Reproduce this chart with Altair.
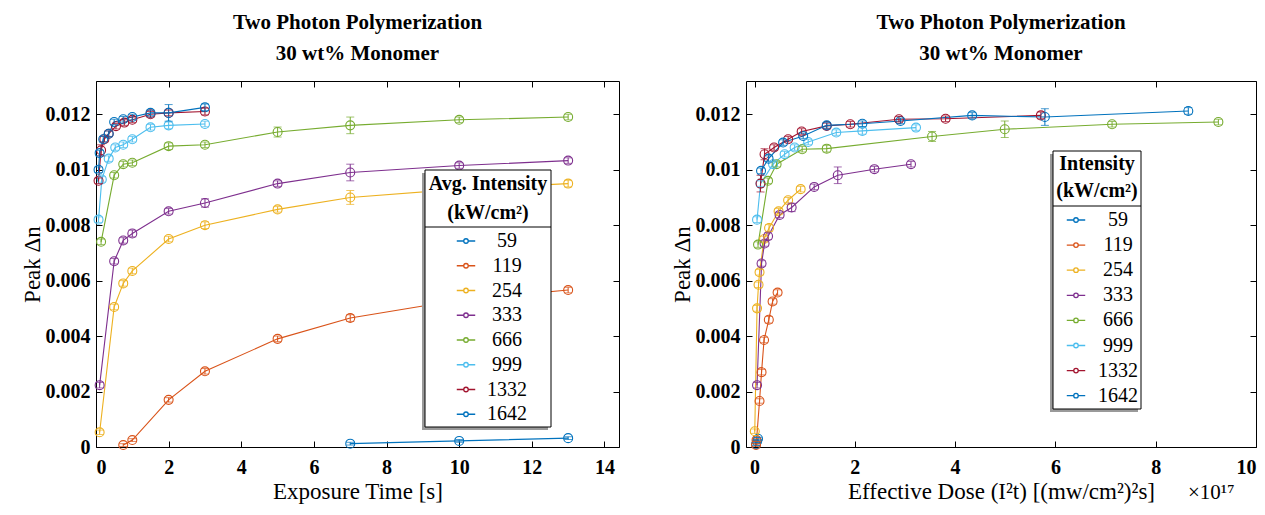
import altair as alt
import pandas as pd

FONT = "Liberation Serif"

intensities = ["59", "119", "254", "333", "666", "999", "1332", "1642"]
colors = ["#0072BD", "#D95319", "#EDB120", "#7E2F8E", "#77AC30", "#4DBEEE", "#A2142F", "#0072BD"]

# ---------------- Left panel: Peak Δn vs exposure time [s]  (value, error bar half-height)
t_59 = [7, 10, 13]
dn_59 = [0.00012, 0.00022, 0.00032]
e_59 = [0.00005, 0.00005, 0.00005]
t_119 = [0.75, 1, 2, 3, 5, 7, 10, 13]
dn_119 = [0.00007, 0.00025, 0.0017, 0.00273, 0.0039, 0.00465, 0.0053, 0.00566]
e_119 = [0.00005, 0.00005, 0.00008, 0.0001, 0.0001, 0.00012, 0.0001, 0.0001]
t_254 = [0.1, 0.5, 0.75, 1, 2, 3, 5, 7, 10, 13]
dn_254 = [0.00053, 0.00505, 0.0059, 0.00635, 0.0075, 0.008, 0.00857, 0.009, 0.0093, 0.0095]
e_254 = [0.00008, 0.0001, 0.0001, 0.0001, 0.0001, 0.00012, 0.0001, 0.00025, 0.0001, 0.00012]
t_333 = [0.1, 0.5, 0.75, 1, 2, 3, 5, 7, 10, 13]
dn_333 = [0.00223, 0.0067, 0.00745, 0.0077, 0.0085, 0.0088, 0.0095, 0.0099, 0.01015, 0.01033]
e_333 = [0.0001, 0.0001, 0.0001, 0.00012, 0.0001, 0.00015, 0.0001, 0.0003, 0.0001, 0.0001]
t_666 = [0.14, 0.5, 0.75, 1, 2, 3, 5, 7, 10, 13]
dn_666 = [0.0074, 0.0098, 0.0102, 0.01025, 0.01085, 0.0109, 0.01136, 0.0116, 0.0118, 0.0119]
e_666 = [0.0001, 0.0001, 0.0001, 0.0001, 0.00012, 0.0001, 0.00018, 0.0003, 0.0001, 0.0001]
t_999 = [0.07, 0.16, 0.35, 0.53, 0.75, 1, 1.5, 2, 3]
dn_999 = [0.0082, 0.00965, 0.0104, 0.0108, 0.0109, 0.0111, 0.01153, 0.0116, 0.01165]
e_999 = [0.0001, 0.0001, 0.0001, 0.0001, 0.0001, 0.0001, 0.0001, 0.00012, 0.0001]
t_1332 = [0.07, 0.14, 0.23, 0.35, 0.55, 0.78, 1, 1.5, 2, 3]
dn_1332 = [0.0096, 0.0107, 0.0111, 0.0113, 0.01157, 0.0117, 0.0118, 0.0120, 0.01205, 0.0121]
e_1332 = [0.0001, 0.0002, 0.0001, 0.0001, 0.0001, 0.0001, 0.0001, 0.0001, 0.0001, 0.00012]
t_1642 = [0.07, 0.1, 0.2, 0.35, 0.5, 0.75, 1, 1.5, 2, 3]
dn_1642 = [0.0100, 0.0106, 0.0111, 0.0113, 0.01172, 0.01182, 0.0119, 0.01205, 0.01205, 0.01225]
e_1642 = [0.0001, 0.0001, 0.0001, 0.0001, 0.0001, 0.0001, 0.0001, 0.0001, 0.0003, 0.00012]

# ---------------- Right panel: Peak Δn vs effective dose (x 1e17)
d_59 = [0.03, 0.05, 0.07]
dr_59 = [0.0001, 0.0002, 0.0003]
er_59 = [0.00005, 0.00005, 0.00005]
d_119 = [0.03, 0.04, 0.1, 0.14, 0.19, 0.285, 0.36, 0.46]
dr_119 = [0.00007, 0.00025, 0.00166, 0.0027, 0.00386, 0.00459, 0.00525, 0.00557]
er_119 = [0.00005, 0.00005, 0.00008, 0.0001, 0.0001, 0.00012, 0.0001, 0.0001]
d_254 = [0.005, 0.05, 0.08, 0.1, 0.19, 0.29, 0.48, 0.67, 0.92]
dr_254 = [0.00057, 0.005, 0.00585, 0.0063, 0.0075, 0.0079, 0.0085, 0.0089, 0.0093]
er_254 = [0.00008, 0.0001, 0.0001, 0.0001, 0.0001, 0.00012, 0.0001, 0.0001, 0.0001]
d_333 = [0.05, 0.14, 0.2, 0.27, 0.5, 0.74, 1.19, 1.66, 2.39, 3.12]
dr_333 = [0.00223, 0.00662, 0.00734, 0.0076, 0.00837, 0.00864, 0.00938, 0.0098, 0.01002, 0.0102]
er_333 = [0.0001, 0.0001, 0.0001, 0.00012, 0.0001, 0.00015, 0.0001, 0.0003, 0.0001, 0.0001]
d_666 = [0.07, 0.27, 0.44, 0.95, 1.44, 3.54, 4.99, 7.13, 9.25]
dr_666 = [0.0073, 0.0096, 0.0102, 0.01074, 0.01076, 0.0112, 0.01146, 0.01164, 0.01172]
er_666 = [0.0001, 0.0001, 0.0001, 0.0001, 0.00012, 0.00018, 0.0003, 0.0001, 0.0001]
d_999 = [0.05, 0.12, 0.37, 0.6, 0.8, 1.07, 1.63, 2.15, 3.22]
dr_999 = [0.0082, 0.0095, 0.0102, 0.01056, 0.0108, 0.0110, 0.01134, 0.0114, 0.01152]
er_999 = [0.0001, 0.0001, 0.0001, 0.0001, 0.0001, 0.0001, 0.0001, 0.00012, 0.0001]
d_1332 = [0.12, 0.2, 0.39, 0.67, 0.94, 1.44, 1.91, 2.88, 3.81, 5.71]
dr_1332 = [0.0095, 0.01056, 0.0108, 0.0111, 0.01138, 0.01158, 0.01164, 0.01182, 0.01184, 0.01196]
er_1332 = [0.0003, 0.0002, 0.0001, 0.0001, 0.0001, 0.0001, 0.0001, 0.0001, 0.0001, 0.00012]
d_1642 = [0.13, 0.28, 0.57, 0.97, 1.44, 2.15, 2.91, 4.34, 5.79, 8.65]
dr_1642 = [0.00996, 0.0104, 0.01098, 0.01122, 0.0116, 0.01166, 0.01176, 0.01196, 0.0119, 0.01212]
er_1642 = [0.0001, 0.0001, 0.0001, 0.0001, 0.0001, 0.0001, 0.0001, 0.0001, 0.0003, 0.00012]

left_series = [(t_59, dn_59, e_59), (t_119, dn_119, e_119), (t_254, dn_254, e_254),
               (t_333, dn_333, e_333), (t_666, dn_666, e_666), (t_999, dn_999, e_999),
               (t_1332, dn_1332, e_1332), (t_1642, dn_1642, e_1642)]
right_series = [(d_59, dr_59, er_59), (d_119, dr_119, er_119), (d_254, dr_254, er_254),
                (d_333, dr_333, er_333), (d_666, dr_666, er_666), (d_999, dr_999, er_999),
                (d_1332, dr_1332, er_1332), (d_1642, dr_1642, er_1642)]


def make_df(series):
    rows = []
    for k, (xs, ys, es) in enumerate(series):
        for x, y, e in zip(xs, ys, es):
            rows.append({"I": intensities[k], "order": k, "x": x, "dn": y,
                         "lo": y - e, "hi": y + e})
    return pd.DataFrame(rows)


dfL = make_df(left_series)
dfR = make_df(right_series)

y_ticks = [0, 0.002, 0.004, 0.006, 0.008, 0.01, 0.012]
PLOT_H = 366
SYMBOL = "M-4.1,0H-1M1,0H4.1M1,0A1,1,0,1,1,-1,0A1,1,0,1,1,1,0Z"


def panel(df, width, xdom, xticks, xtitle, legend_x, legend_y, row_pad, label_off,
          box, sep_y, ltitle, ltitle_pos, extra_text=None):
    color = alt.Color(
        "I:N",
        scale=alt.Scale(domain=intensities, range=colors),
        sort=intensities,
        legend=alt.Legend(
            title=None, orient="none", legendX=legend_x, legendY=legend_y,
            symbolType=SYMBOL, symbolSize=20.25, symbolStrokeWidth=1.3,
            symbolFillColor="white", padding=0, rowPadding=row_pad,
            labelFont=FONT, labelFontSize=20, labelColor="black", labelAlign="center",
            labelOffset=label_off, symbolOffset=0,
        ),
    )
    xs = alt.Scale(domain=xdom, nice=False, zero=False)
    ys = alt.Scale(domain=[0, 0.0132], nice=False, zero=False)
    xe = alt.X("x:Q", scale=xs, axis=None)
    err_rule = alt.Chart(df).mark_rule(strokeWidth=1).encode(
        x=xe, y=alt.Y("lo:Q", scale=ys, axis=None), y2="hi:Q",
        stroke=alt.Stroke("I:N", scale=alt.Scale(domain=intensities, range=colors), legend=None),
    )
    cap_lo = alt.Chart(df).mark_tick(thickness=1, size=8, orient="horizontal").encode(
        x=xe, y=alt.Y("lo:Q", scale=ys, axis=None),
        fill=alt.Fill("I:N", scale=alt.Scale(domain=intensities, range=colors), legend=None),
    )
    cap_hi = alt.Chart(df).mark_tick(thickness=1, size=8, orient="horizontal").encode(
        x=xe, y=alt.Y("hi:Q", scale=ys, axis=None),
        fill=alt.Fill("I:N", scale=alt.Scale(domain=intensities, range=colors), legend=None),
    )
    lines = alt.Chart(df).mark_line(
        strokeWidth=1.1,
        point=alt.OverlayMarkDef(shape="circle", filled=False, size=80, strokeWidth=1.1),
    ).encode(
        x=alt.X("x:Q", scale=xs, axis=alt.Axis(values=xticks, title=xtitle, titlePadding=3)),
        y=alt.Y("dn:Q", scale=ys, axis=alt.Axis(values=y_ticks, format="~g", title="Peak Δn",
                                                 titlePadding=1)),
        color=color,
        order="order:Q",
    )
    ticks2 = alt.Chart(df).mark_point(opacity=0).encode(
        x=alt.X("x:Q", scale=xs, axis=alt.Axis(values=xticks, orient="top", labels=False, title=None)),
        y=alt.Y("dn:Q", scale=ys, axis=alt.Axis(values=y_ticks, orient="right", labels=False, title=None)),
    )
    one = pd.DataFrame({"k": [0]})
    bx0, by0, bx1, by1 = box
    shadow = alt.Chart(one).mark_rect(color="#9a9a9a").encode(
        x=alt.value(bx0 - 3), x2=alt.value(bx1 - 3), y=alt.value(by0 + 3), y2=alt.value(by1 + 3))
    boxm = alt.Chart(one).mark_rect(fill="white", stroke="black", strokeWidth=1).encode(
        x=alt.value(bx0), x2=alt.value(bx1), y=alt.value(by0), y2=alt.value(by1))
    sep = alt.Chart(one).mark_rule(color="black", strokeWidth=1).encode(
        x=alt.value(bx0), x2=alt.value(bx1), y=alt.value(sep_y))
    t1 = alt.Chart(pd.DataFrame({"t": [ltitle[0]]})).mark_text(
        font=FONT, fontSize=20, fontWeight="bold", align="center", baseline="middle", color="black"
    ).encode(text="t:N", x=alt.value(ltitle_pos[0]), y=alt.value(ltitle_pos[1]))
    t2 = alt.Chart(pd.DataFrame({"t": [ltitle[1]]})).mark_text(
        font=FONT, fontSize=20, fontWeight="bold", align="center", baseline="middle", color="black"
    ).encode(text="t:N", x=alt.value(ltitle_pos[0]), y=alt.value(ltitle_pos[2]))
    layers = [lines, ticks2, err_rule, cap_lo, cap_hi, shadow, boxm, sep, t1, t2]
    if extra_text is not None:
        layers.append(extra_text)
    return alt.layer(*layers).resolve_axis(x="independent", y="independent").properties(
        width=width, height=PLOT_H,
        title=alt.TitleParams(["Two Photon Polymerization", "30 wt% Monomer"], font=FONT,
                              fontSize=21, fontWeight="bold", anchor="middle", color="black",
                              lineHeight=31, offset=17),
    )


sci = alt.Chart(pd.DataFrame({"t": ["×10¹⁷"]})).mark_text(
    font=FONT, fontSize=21, align="left", baseline="alphabetic", color="black"
).encode(text="t:N", x=alt.value(442), y=alt.value(418))

left = panel(dfL, 523, [0, 14.4], list(range(0, 15, 2)), "Exposure Time [s]",
             legend_x=360, legend_y=150, row_pad=4.75, label_off=31,
             box=(329, 89, 455, 346), sep_y=146,
             ltitle=["Avg. Intensity", "(kW/cm²)"], ltitle_pos=(392, 103, 132))
right = panel(dfR, 510, [-0.17, 10], list(range(0, 11, 2)), "Effective Dose (I²t)  [(mw/cm²)²s]",
              legend_x=320, legend_y=129, row_pad=5.1, label_off=32,
              box=(307, 70, 395, 328), sep_y=125,
              ltitle=["Intensity", "(kW/cm²)"], ltitle_pos=(351, 83, 110),
              extra_text=sci)

chart = alt.hconcat(left, right, spacing=50).resolve_scale(color="shared").resolve_legend(
    color="independent"
).properties(
    padding={"left": 20, "top": 11, "right": 2, "bottom": 5}, background="white"
).configure_view(stroke="black", strokeWidth=1).configure_axis(
    labelFont=FONT, labelFontSize=20, labelFontWeight="bold", labelColor="black",
    titleFont=FONT, titleFontSize=23, titleFontWeight="normal", titleColor="black",
    grid=False, domain=False, tickColor="black", tickSize=6, offset=-6,
).configure_axisX(labelPadding=10).configure_axisY(labelPadding=6)

chart.save("out.html", embed_options={"renderer": "svg", "actions": False})
